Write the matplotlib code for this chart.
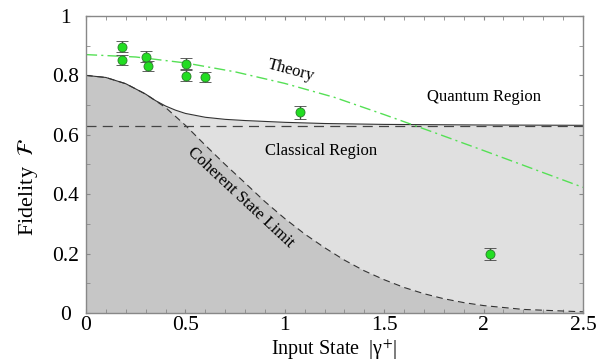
import matplotlib
matplotlib.use("Agg")
import matplotlib.pyplot as plt
from matplotlib.ticker import MultipleLocator

plt.rcParams['font.family'] = ['Liberation Serif', 'DejaVu Serif']
plt.rcParams['mathtext.fontset'] = 'stix'

# measured data
data_x = [0.18, 0.18, 0.30, 0.31, 0.505, 0.505, 0.60, 1.076, 2.03]
data_y = [0.897, 0.852, 0.863, 0.832, 0.839, 0.799, 0.795, 0.676, 0.199]
data_err = [0.018, 0.018, 0.018, 0.018, 0.018, 0.018, 0.016, 0.022, 0.02]

# theory curve
theory_x = [0.0, 0.25, 0.5, 0.75, 1.0, 1.25, 1.5, 1.75, 2.0, 2.25, 2.5]
theory_y = [0.870, 0.862, 0.842, 0.812, 0.773, 0.726, 0.668, 0.608, 0.547, 0.485, 0.423]

# coherent state limit
coh_x = [0.0, 0.1, 0.2, 0.3, 0.4, 0.5, 0.6, 0.7, 0.8, 0.9, 1.0, 1.1, 1.2, 1.3, 1.4,
         1.5, 1.6, 1.7, 1.8, 1.9, 2.0, 2.2, 2.5]
coh_y = [0.800, 0.793, 0.772, 0.737, 0.692, 0.632, 0.565, 0.500, 0.438, 0.375, 0.318,
         0.266, 0.220, 0.178, 0.142, 0.112, 0.086, 0.065, 0.048, 0.035, 0.025, 0.012, 0.004]

# classical bound (solid line)
cls_x = [0.0, 0.1, 0.2, 0.3, 0.35, 0.4, 0.45, 0.5, 0.6, 0.7, 0.8, 1.0, 1.2, 1.5, 2.0, 2.5]
cls_y = [0.800, 0.793, 0.772, 0.737, 0.715, 0.697, 0.683, 0.672, 0.659, 0.652, 0.648,
         0.642, 0.638, 0.635, 0.633, 0.632]

classical_limit = 0.63

xtick_vals = [0, 0.5, 1, 1.5, 2, 2.5]
xtick_labels = ['0', '0.5', '1', '1.5', '2', '2.5']
ytick_vals = [0, 0.2, 0.4, 0.6, 0.8, 1]
ytick_labels = ['0', '0.2', '0.4', '0.6', '0.8', '1']

fig = plt.figure(figsize=(6.06, 3.63), dpi=100)
ax = fig.add_axes([86/606, 1-313/363, (583-86)/606, (313-16)/363])

ax.fill_between(cls_x, 0, cls_y, color='#e0e0e0', lw=0)
ax.fill_between(coh_x, 0, coh_y, color='#c6c6c6', lw=0)
ax.plot(cls_x, cls_y, color='#333333', lw=0.8)
ax.plot(coh_x, coh_y, color='#333333', lw=0.8, ls=(0, (6, 4)))
ax.axhline(classical_limit, color='#444444', lw=0.9, ls=(0, (8, 5)))
ax.plot(theory_x, theory_y, color='#55e055', lw=1.0, ls=(0, (8, 3, 1.5, 3)))

ax.errorbar(data_x, data_y, yerr=data_err, fmt='o', color='#22dd22', mec='#2a7a2a',
            mew=0.6, ms=6.5, ecolor='#444444', elinewidth=0.9, capsize=4, capthick=0.9,
            zorder=5)

ax.text(1.03, 0.815, 'Theory', rotation=-15, ha='center', va='center', fontsize=12)
ax.text(2.0, 0.727, 'Quantum Region', ha='center', va='center', fontsize=12)
ax.text(1.18, 0.545, 'Classical Region', ha='center', va='center', fontsize=12)
ax.text(0.78, 0.39, 'Coherent State Limit', rotation=-43, ha='center', va='center',
        fontsize=12)

ax.set_xlim(0, 2.5)
ax.set_ylim(0, 1)
ax.xaxis.set_minor_locator(MultipleLocator(0.1))
ax.yaxis.set_minor_locator(MultipleLocator(0.1))
ax.set_xticks(xtick_vals)
ax.set_xticklabels(xtick_labels, fontfamily='Liberation Serif', fontsize=15.5)
ax.set_yticks(ytick_vals)
ax.set_yticklabels(ytick_labels, fontfamily='Liberation Serif', fontsize=15.5,
                   ha='center')
ax.tick_params(which='both', direction='in', top=True, right=True, color='#888888',
               length=3)
ax.tick_params(axis='x', pad=2)
ax.tick_params(axis='y', pad=14.5)
for s in ax.spines.values():
    s.set_color('#888888')
    s.set_linewidth(1.0)

ax.set_xlabel('Input State  |γ$^{+}$|', fontsize=14.5)
ax.xaxis.set_label_coords(0.5, (313 - 337) / 297)
ax.set_ylabel(r'Fidelity  $\mathcal{F}$', fontsize=16)
ax.yaxis.set_label_coords((40 - 86) / 497, (313 - 187) / 297)

fig.savefig('out.png', dpi=100)
